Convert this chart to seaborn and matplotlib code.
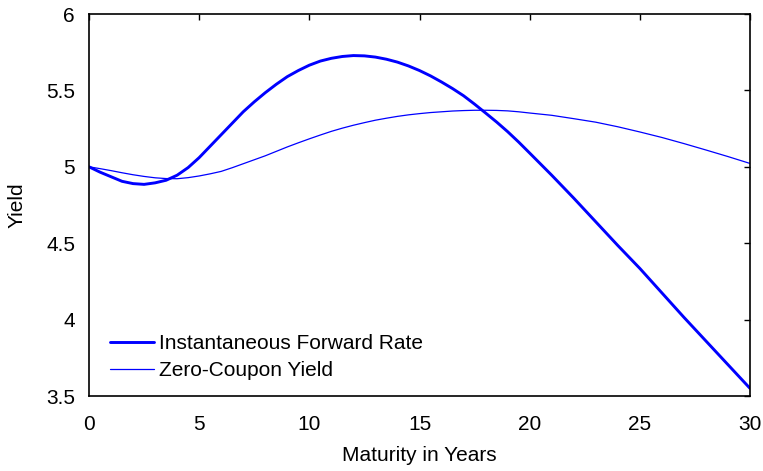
import pandas as pd
import matplotlib.pyplot as plt
import seaborn as sns
import numpy as np

# Values (yield in %, maturity in years)
maturity = [0, 0.5, 1, 1.5, 2, 2.5, 3, 3.5, 4, 4.5, 5, 5.5, 6, 6.5, 7, 7.5, 8, 8.5,
            9, 9.5, 10, 10.5, 11, 11.5, 12, 12.5, 13, 13.5, 14, 14.5, 15, 15.5,
            16, 16.5, 17, 17.5, 18, 18.5, 19, 19.5, 20, 21, 22, 23, 24, 25, 26,
            27, 28, 29, 30]
forward_rate = [5.000, 4.965, 4.935, 4.905, 4.890, 4.885, 4.895, 4.912, 4.945, 4.995,
                5.060, 5.135, 5.210, 5.285, 5.360, 5.425, 5.485, 5.540, 5.590, 5.630,
                5.665, 5.692, 5.710, 5.722, 5.728, 5.726, 5.718, 5.704, 5.685, 5.660,
                5.630, 5.595, 5.555, 5.512, 5.465, 5.410, 5.352, 5.293, 5.230, 5.162,
                5.090, 4.945, 4.795, 4.640, 4.485, 4.335, 4.175, 4.015, 3.860, 3.705,
                3.550]
zero_yield = [5.000, 4.988, 4.975, 4.961, 4.948, 4.937, 4.928, 4.923, 4.922, 4.929,
              4.940, 4.954, 4.970, 4.994, 5.020, 5.046, 5.072, 5.101, 5.130, 5.157,
              5.183, 5.208, 5.232, 5.253, 5.272, 5.289, 5.305, 5.318, 5.330, 5.340,
              5.348, 5.355, 5.360, 5.365, 5.368, 5.370, 5.370, 5.369, 5.366, 5.360,
              5.352, 5.337, 5.315, 5.292, 5.262, 5.228, 5.192, 5.152, 5.110, 5.067,
              5.022]
labels = ['Instantaneous Forward Rate', 'Zero-Coupon Yield']

df = pd.DataFrame({'maturity': maturity * 2,
                   'yield': forward_rate + zero_yield,
                   'curve': [labels[0]] * len(maturity) + [labels[1]] * len(maturity)})

sns.set_style('white')
plt.rcParams['font.family'] = ['Liberation Sans', 'DejaVu Sans']
plt.rcParams['text.color'] = 'black'
plt.rcParams['axes.labelcolor'] = 'black'
plt.rcParams['xtick.color'] = 'black'
plt.rcParams['ytick.color'] = 'black'
plt.rcParams['xtick.direction'] = 'in'
plt.rcParams['ytick.direction'] = 'in'

fs = 15
fig = plt.figure(figsize=(7.63, 4.71), dpi=100)
ax = fig.add_axes([89 / 763, 1 - 396 / 471, 661 / 763, 382 / 471])

sns.lineplot(data=df, x='maturity', y='yield', hue='curve', size='curve',
             sizes={labels[0]: 2.1, labels[1]: 0.9},
             palette={labels[0]: '#0000ff', labels[1]: '#0000ff'},
             ax=ax, legend=False)

ax.set_xlim(0, 30)
ax.set_ylim(3.5, 6)
ax.set_xticks([0, 5, 10, 15, 20, 25, 30])
ax.set_yticks([3.5, 4, 4.5, 5, 5.5, 6])
ax.set_yticklabels(['3.5', '4', '4.5', '5', '5.5', '6'])
ax.tick_params(labelsize=fs, length=4, width=1, top=True, right=True)
ax.tick_params(axis='x', pad=13.5)
ax.tick_params(axis='y', pad=10)
for s in ax.spines.values():
    s.set_linewidth(1.2)
    s.set_color('black')
ax.set_xlabel('Maturity in Years', fontsize=fs)
ax.set_ylabel('Yield', fontsize=fs)
ax.xaxis.set_label_coords(0.5, -0.13)
ax.yaxis.set_label_coords(-0.094, 0.5)

lines = ax.get_lines()
ax.legend(lines[:2], labels, loc='lower left', bbox_to_anchor=(21 / 661, 16 / 382),
          frameon=False, fontsize=fs, handlelength=2.1, handletextpad=0.25,
          labelspacing=0.38, borderaxespad=0, borderpad=0)

plt.savefig('out.png', dpi=100)
